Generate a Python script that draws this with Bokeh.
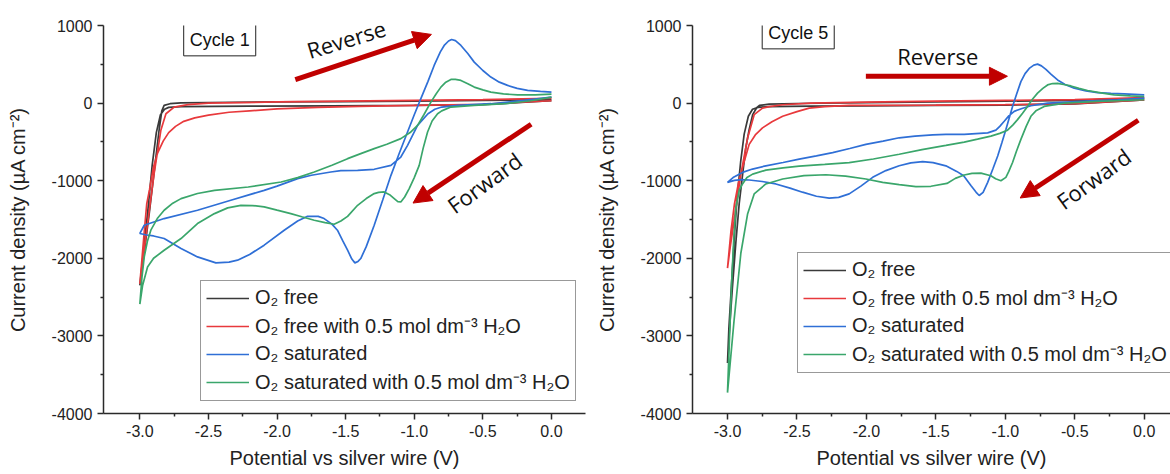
from bokeh.plotting import figure
from bokeh.layouts import row
from bokeh.models import (FixedTicker, PrintfTickFormatter, Label, Arrow,
                          NormalHead, Legend, LegendItem)
from bokeh.embed import file_html
from bokeh.resources import INLINE

# ---------------- data ----------------
SERIES_LABELS = ["O₂ free", "O₂ free with 0.5 mol dm⁻³ H₂O", "O₂ saturated",
                 "O₂ saturated with 0.5 mol dm⁻³ H₂O"]
SERIES_COLORS = ["#3a3a3a", "#e8393c", "#2f6fd6", "#3aa66b"]

X_TICKS = [-3.0, -2.5, -2.0, -1.5, -1.0, -0.5, 0.0]
Y_TICKS = [1000, 0, -1000, -2000, -3000, -4000]

# ---- Cycle 1 ----
c1_free_x = [0.0, -0.5, -1.0, -1.5, -2.0, -2.5, -2.7, -2.78, -2.823, -2.84, -2.86, -2.89, -2.93, -2.97, -3.0,
             -2.97, -2.94, -2.91, -2.88, -2.85, -2.82, -2.79, -2.7, -2.2, -1.6, -1.0, -0.5, 0.0]
c1_free_y = [45, 35, 25, 20, 15, 8, 2, -8, -30, -100, -350, -800, -1400, -1950, -2350,
             -1850, -1350, -800, -380, -150, -80, -55, -45, -40, -35, -30, -20, 30]

c1_water_x = [0.0, -0.5, -1.0, -1.5, -2.0, -2.5, -2.65, -2.75, -2.81, -2.847, -2.896, -2.944, -2.993, -3.0,
              -2.97, -2.95, -2.93, -2.90, -2.87, -2.83, -2.79, -2.74, -2.68, -2.60, -2.50, -2.35, -2.2,
              -2.0, -1.7, -1.4, -1.0, -0.5, 0.0]
c1_water_y = [60, 45, 35, 25, 15, 0, -20, -51, -137, -351, -909, -1552, -2239, -2330,
              -1700, -1300, -1120, -820, -640, -490, -380, -300, -235, -190, -155, -118, -100,
              -75, -55, -42, -30, -15, 30]

c1_sat_x = [0.0, -0.2, -0.44, -0.68, -0.80, -0.85, -0.90, -0.976, -1.049, -1.098, -1.17, -1.292, -1.413,
            -1.535, -1.608, -1.75, -1.85, -2.0, -2.094, -2.337, -2.58, -2.823, -2.968, -3.0,
            -2.95, -2.9, -2.823, -2.70, -2.58, -2.446, -2.35, -2.288, -2.2, -2.094, -1.948, -1.85,
            -1.778, -1.70, -1.657, -1.60, -1.56, -1.52, -1.486, -1.455, -1.433, -1.41, -1.39, -1.35,
            -1.292, -1.23, -1.17, -1.11, -1.049, -1.0, -0.952, -0.90, -0.855, -0.81, -0.782, -0.75,
            -0.728, -0.70, -0.66, -0.61, -0.563, -0.50, -0.442, -0.38, -0.32, -0.25, -0.174, -0.08, 0.0]
c1_sat_y = [77, 35, -8, -30, -51, -80, -137, -287, -544, -695, -802, -853, -866,
            -870, -888, -930, -973, -1070, -1124, -1252, -1381, -1488, -1574, -1680,
            -1700, -1712, -1745, -1874, -1982, -2059, -2050, -2024, -1950, -1831, -1638, -1520,
            -1458, -1460, -1488, -1560, -1638, -1780, -1896, -2010, -2059, -2040, -2003, -1850,
            -1574, -1250, -931, -650, -373, -150, 57, 280, 485, 660, 743, 800,
            820, 805, 743, 640, 528, 420, 335, 270, 228, 190, 163, 150, 142]

c1_satw_x = [0.0, -0.15, -0.336, -0.563, -0.733, -0.80, -0.83, -0.87, -0.903, -0.935, -0.964, -1.0, -1.037,
             -1.07, -1.098, -1.12, -1.146, -1.18, -1.219, -1.26, -1.292, -1.35, -1.413, -1.486, -1.535,
             -1.584, -1.65, -1.729, -1.82, -1.9, -2.0, -2.094, -2.18, -2.264, -2.36, -2.456, -2.58,
             -2.70, -2.823, -2.90, -2.944, -2.98, -3.0,
             -2.985, -2.968, -2.945, -2.92, -2.87, -2.823, -2.76, -2.70, -2.58, -2.456, -2.21, -1.97,
             -1.85, -1.729, -1.6, -1.486, -1.39, -1.292, -1.2, -1.098, -1.03, -0.976, -0.93, -0.879,
             -0.84, -0.806, -0.77, -0.733, -0.70, -0.66, -0.61, -0.563, -0.50, -0.442, -0.35, -0.247,
             -0.12, 0.0]
c1_satw_y = [77, 30, -8, -30, -51, -100, -137, -230, -373, -580, -802, -960, -1102,
             -1210, -1274, -1270, -1231, -1180, -1145, -1150, -1166, -1230, -1317, -1460, -1520,
             -1561, -1540, -1510, -1465, -1424, -1380, -1338, -1320, -1317, -1350, -1424, -1552,
             -1745, -1896, -2000, -2111, -2350, -2590,
             -2250, -1982, -1780, -1638, -1480, -1381, -1290, -1231, -1165, -1124, -1081, -1017,
             -960, -888, -800, -716, -651, -587, -530, -458, -380, -287, -150, 13,
             120, 206, 270, 305, 305, 292, 250, 206, 170, 142, 118, 105,
             105, 115]

# ---- Cycle 5 ----
c5_free_x = [0.0, -0.5, -1.0, -1.5, -2.0, -2.5, -2.7, -2.77, -2.79, -2.819, -2.845, -2.868, -2.89, -2.916,
             -2.94, -2.964, -2.985, -3.0,
             -2.99, -2.97, -2.95, -2.93, -2.905, -2.88, -2.85, -2.82, -2.78, -2.7, -2.4, -2.0, -1.5,
             -1.0, -0.5, 0.0]
c5_free_y = [60, 35, 25, 15, 5, -5, -13, -30, -60, -149, -350, -574, -900, -1298,
             -1800, -2361, -2900, -3350,
             -2900, -2300, -1700, -1200, -750, -400, -170, -80, -55, -45, -40, -35, -30,
             -25, -10, 40]

c5_water_x = [0.0, -0.5, -1.0, -1.5, -2.0, -2.4, -2.603, -2.70, -2.748, -2.808, -2.855, -2.904, -2.952,
              -2.98, -3.0,
              -2.975, -2.95, -2.92, -2.892, -2.844, -2.80, -2.748, -2.68, -2.603, -2.5, -2.412, -2.3,
              -2.124, -1.5, -1.0, -0.5, 0.0]
c5_water_y = [70, 45, 35, 25, 13, 0, -21, -45, -64, -149, -447, -915, -1510,
              -1850, -2127,
              -1650, -1300, -1020, -829, -532, -410, -319, -240, -170, -110, -64, -45,
              -30, -25, -20, -8, 40]

c5_sat_x = [0.0, -0.192, -0.456, -0.696, -0.816, -0.88, -0.936, -0.975, -1.008, -1.04, -1.068, -1.127,
            -1.296, -1.428, -1.523, -1.65, -1.764, -1.88, -2.004, -2.12, -2.243, -2.36, -2.484, -2.6,
            -2.724, -2.82, -2.892, -2.96, -3.0,
            -2.95, -2.9, -2.844, -2.75, -2.652, -2.55, -2.46, -2.36, -2.268, -2.2, -2.124, -2.04,
            -1.955, -1.86, -1.764, -1.68, -1.595, -1.52, -1.428, -1.35, -1.3, -1.248, -1.21, -1.188,
            -1.16, -1.127, -1.09, -1.055, -1.025, -0.996, -0.948, -0.918, -0.888, -0.858, -0.828,
            -0.795, -0.768, -0.74, -0.708, -0.67, -0.624, -0.57, -0.504, -0.42, -0.336, -0.24,
            -0.144, 0.0]
c5_sat_y = [64, 43, 21, 0, -34, -70, -106, -165, -234, -300, -349, -383,
            -404, -404, -410, -425, -447, -490, -532, -585, -638, -680, -723, -765,
            -808, -850, -893, -960, -1021,
            -995, -985, -991, -1010, -1042, -1095, -1148, -1200, -1225, -1215, -1170, -1070,
            -957, -870, -808, -770, -753, -768, -808, -880, -936, -1063, -1150, -1191,
            -1150, -1021, -850, -681, -510, -340, -43, 120, 277, 380, 447,
            490, 502, 480, 434, 370, 298, 240, 191, 158, 136, 125,
            119, 106]

c5_satw_x = [0.0, -0.336, -0.576, -0.72, -0.78, -0.816, -0.85, -0.888, -0.92, -0.948, -0.975, -0.996,
             -1.032, -1.07, -1.104, -1.176, -1.24, -1.296, -1.36, -1.42, -1.536, -1.644, -1.764,
             -1.883, -2.004, -2.15, -2.292, -2.45, -2.603, -2.724, -2.808, -2.855, -2.904, -2.952, -3.0,
             -2.985, -2.97, -2.955, -2.94, -2.915, -2.892, -2.86, -2.819, -2.724, -2.6, -2.484, -2.3,
             -2.124, -1.95, -1.764, -1.6, -1.428, -1.296, -1.2, -1.104, -1.04, -0.984, -0.945, -0.912,
             -0.876, -0.84, -0.805, -0.768, -0.73, -0.696, -0.66, -0.624, -0.58, -0.528, -0.47,
             -0.408, -0.3, -0.216, -0.1, 0.0]
c5_satw_y = [43, 21, 0, -43, -100, -170, -300, -468, -620, -766, -880, -957,
             -1000, -975, -936, -902, -905, -927, -970, -1035, -1072, -1076, -1050,
             -1021, -978, -940, -923, -935, -978, -1042, -1170, -1425, -1935, -2786, -3730,
             -3000, -2300, -1750, -1350, -1120, -1042, -960, -915, -864, -835, -813, -790,
             -766, -720, -659, -600, -545, -502, -465, -425, -390, -349, -280, -213,
             -130, -43, 50, 128, 190, 234, 252, 255, 240, 221, 190,
             162, 128, 106, 92, 85]

ARROW_RED = "#c00000"
FONT = "Liberation Sans"


def style_axes(p):
    for ax in (p.xaxis[0], p.yaxis[0]):
        ax.axis_line_color = "#2a2a2a"
        ax.axis_line_width = 1.5
        ax.major_tick_line_color = "#2a2a2a"
        ax.major_tick_line_width = 1.5
        ax.major_tick_in = 0
        ax.major_tick_out = 6
        ax.minor_tick_line_color = "#2a2a2a"
        ax.minor_tick_line_width = 1.5
        ax.minor_tick_in = 0
        ax.minor_tick_out = 3
        ax.major_label_text_font = FONT
        ax.major_label_text_font_size = "16px"
        ax.major_label_text_color = "#222222"
        ax.major_label_standoff = 5
        ax.axis_label_text_font = FONT
        ax.axis_label_text_font_size = "20px"
        ax.axis_label_text_font_style = "normal"
        ax.axis_label_text_color = "#222222"
    xmin = [(a + b) / 2 for a, b in zip(X_TICKS[:-1], X_TICKS[1:])]
    ymin = [(a + b) / 2 for a, b in zip(Y_TICKS[:-1], Y_TICKS[1:])]
    p.xaxis[0].ticker = FixedTicker(ticks=X_TICKS, minor_ticks=xmin)
    p.yaxis[0].ticker = FixedTicker(ticks=Y_TICKS, minor_ticks=ymin)
    p.xaxis[0].formatter = PrintfTickFormatter(format="%.1f")
    p.yaxis[0].formatter = PrintfTickFormatter(format="%d")
    p.xaxis[0].axis_label = "Potential vs silver wire (V)"
    p.yaxis[0].axis_label = "Current density (µA cm⁻²)"
    p.xaxis[0].axis_label_standoff = 7
    p.yaxis[0].axis_label_standoff = 20
    p.xgrid.grid_line_color = None
    p.ygrid.grid_line_color = None
    p.outline_line_color = None


def make_panel(width, borders, xr, series, legend_loc, cycle_text, cycle_xy,
               rev, rev_text, fwd, fwd_text):
    left, right, top, bottom = borders
    p = figure(width=width, height=474, x_range=xr, y_range=(-4000, 1000),
               output_backend="svg", toolbar_location=None,
               min_border_left=left, min_border_right=right,
               min_border_top=top, min_border_bottom=bottom)
    style_axes(p)
    items = []
    for (xs, ys), color, lab in zip(series, SERIES_COLORS, SERIES_LABELS):
        r = p.line(xs, ys, line_color=color, line_width=1.7)
        items.append(LegendItem(label=lab, renderers=[r]))
    leg = Legend(items=items, location=legend_loc, label_text_font=FONT,
                 label_text_font_size="20px", label_text_color="#222222",
                 glyph_width=43, glyph_height=20, label_height=20, label_standoff=6,
                 spacing=3, padding=5, margin=0, border_line_color="#333333",
                 border_line_width=1, background_fill_color="white", background_fill_alpha=1)
    p.add_layout(leg)
    p.add_layout(Label(x=cycle_xy[0], y=cycle_xy[1], text=cycle_text, text_align="center",
                       text_baseline="middle", text_font=FONT, text_font_size="18px",
                       text_color="#111111", border_line_color="#222222", border_line_width=1,
                       background_fill_color="white", padding=6))
    for (x0, y0, x1, y1) in (rev, fwd):
        p.add_layout(Arrow(end=NormalHead(size=18, fill_color=ARROW_RED, line_color=ARROW_RED),
                           x_start=x0, y_start=y0, x_end=x1, y_end=y1,
                           line_color=ARROW_RED, line_width=5))
    for (tx, ty, ang, txt) in (rev_text, fwd_text):
        p.add_layout(Label(x=tx, y=ty, text=txt, angle=ang, angle_units="deg",
                           text_align="center", text_baseline="middle",
                           text_font="Open Sans", text_font_size="22px", text_color="#111111"))
    return p


p1 = make_panel(590, (103, 5, 25, 61), (-3.265, 0.248),
                [(c1_free_x, c1_free_y), (c1_water_x, c1_water_y),
                 (c1_sat_x, c1_sat_y), (c1_satw_x, c1_satw_y)],
                (97, 12), "Cycle 1", (-2.418, 815),
                (-1.867, 302, -0.875, 885), (-1.496, 828, 17, "Reverse"),
                (-0.148, -272, -1.009, -1288), (-0.49, -1023, 36, "Forward"))

p2 = make_panel(580, (102, 0, 23, 60), (-3.252, 0.189),
                [(c5_free_x, c5_free_y), (c5_water_x, c5_water_y),
                 (c5_sat_x, c5_sat_y), (c5_satw_x, c5_satw_y)],
                (105, 40), "Cycle 5", (-2.491, 905),
                (-2.004, 346, -0.985, 346), (-1.487, 608, 0, "Reverse"),
                (-0.043, -221, -0.893, -1223), (-0.366, -969, 36, "Forward"))

layout = row(p1, p2, spacing=0)
open("out.html", "w").write(file_html(layout, INLINE))
